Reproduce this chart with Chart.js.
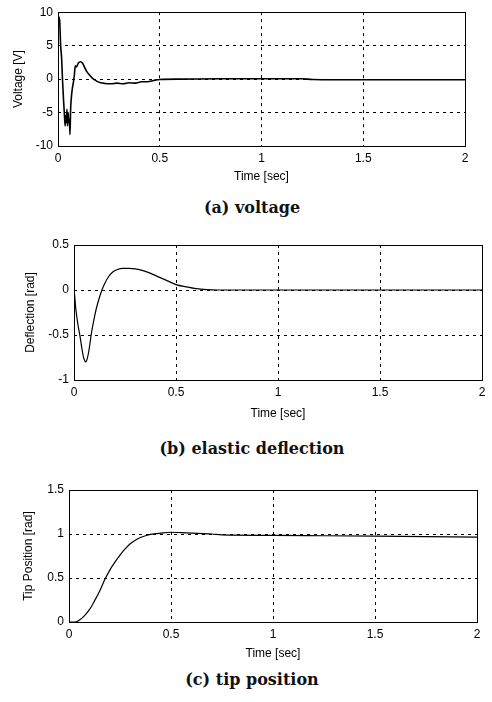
<!DOCTYPE html>
<html>
<head>
<meta charset="utf-8">
<script src="https://cdn.jsdelivr.net/npm/chart.js@4.4.1/dist/chart.umd.min.js"></script>
<style>
    html, body { margin: 0; padding: 0; background: #fff; }
    #page { position: relative; width: 492px; height: 702px; }
    .box { position: absolute; left: 0; width: 492px; }
    .caption {
        position: absolute; left: 0; width: 504px; text-align: center;
        font-family: "DejaVu Serif", serif; font-size: 16px; font-weight: bold; color: #111;
    }
</style>
</head>
<body>
<div id="page">
    <div class="box" style="top:0; height:184px;"><canvas id="chartVoltage"></canvas></div>
    <div class="caption" style="top:198px;">(a) voltage</div>
    <div class="box" style="top:230px; height:191px;"><canvas id="chartDeflection"></canvas></div>
    <div class="caption" style="top:439px;">(b) elastic deflection</div>
    <div class="box" style="top:475px; height:186px;"><canvas id="chartTip"></canvas></div>
    <div class="caption" style="top:670px;">(c) tip position</div>
</div>
<script>
var timeTicks = [0, 0.5, 1, 1.5, 2];

// (a) voltage
var voltageTime = [0, 0.003, 0.008, 0.013, 0.018, 0.022, 0.027, 0.031, 0.035, 0.038, 0.041, 0.044, 0.047,
    0.05, 0.053, 0.056, 0.059, 0.062, 0.065, 0.07, 0.075, 0.08, 0.085, 0.09, 0.1, 0.11, 0.12, 0.13, 0.14,
    0.155, 0.17, 0.19, 0.21, 0.23, 0.26, 0.29, 0.32, 0.35, 0.38, 0.41, 0.44, 0.47, 0.5, 0.6, 0.8, 1.0,
    1.2, 1.25, 1.5, 1.75, 2.0];
var voltageValue = [8.5, 9.3, 8.8, 5, 3, 0, -3, -5, -7, -5.5, -6.5, -4.5, -7,
    -5, -6.5, -6, -8.3, -4.5, -3, -1.5, -0.6, 0.5, 2, 1.8, 2.4, 2.6, 2.4, 1.8, 1.2,
    0.6, 0.1, -0.3, -0.55, -0.65, -0.7, -0.6, -0.7, -0.55, -0.6, -0.4, -0.4, -0.2, -0.05, 0, 0.05, 0.05,
    0.05, -0.05, -0.1, -0.1, -0.1];

// (b) elastic deflection
var deflectionTime = [0, 0.004, 0.008, 0.015, 0.022, 0.03, 0.038, 0.046, 0.053, 0.058, 0.064, 0.071,
    0.078, 0.084, 0.095, 0.11, 0.125, 0.137, 0.15, 0.17, 0.19, 0.21, 0.24, 0.27, 0.3, 0.33, 0.37, 0.42,
    0.47, 0.5, 0.55, 0.6, 0.65, 0.7, 0.8, 1, 1.5, 2];
var deflectionValue = [0, -0.08, -0.19, -0.32, -0.42, -0.52, -0.64, -0.74, -0.79, -0.8, -0.77, -0.7,
    -0.6, -0.5, -0.36, -0.2, -0.08, 0, 0.07, 0.15, 0.2, 0.225, 0.24, 0.24, 0.235, 0.22, 0.19, 0.14,
    0.09, 0.06, 0.035, 0.015, 0.005, 0, 0, 0, 0, 0];

// (c) tip position
var tipTime = [0, 0.03, 0.05, 0.075, 0.1, 0.125, 0.15, 0.175, 0.2, 0.225, 0.25, 0.275, 0.3, 0.325,
    0.35, 0.375, 0.4, 0.45, 0.5, 0.55, 0.6, 0.7, 0.75, 1, 1.25, 1.5, 1.75, 2];
var tipValue = [0, 0, 0.02, 0.07, 0.14, 0.24, 0.35, 0.48, 0.59, 0.68, 0.76, 0.83, 0.89, 0.93,
    0.96, 0.98, 0.995, 1.01, 1.02, 1.015, 1.01, 1.0, 0.99, 0.985, 0.98, 0.975, 0.97, 0.965];

var voltageTicks = [-10, -5, 0, 5, 10];
var deflectionTicks = [-1, -0.5, 0, 0.5];
var tipTicks = [0, 0.5, 1, 1.5];

var frameBox = {
    id: 'frameBox',
    afterDraw: function (chart) {
        var a = chart.chartArea, ctx = chart.ctx;
        ctx.save();
        ctx.strokeStyle = '#000';
        ctx.lineWidth = 1;
        ctx.strokeRect(Math.round(a.left) + 0.5, Math.round(a.top) + 0.5,
            Math.round(a.right - a.left), Math.round(a.bottom - a.top));
        ctx.restore();
    }
};

function toPoints(xs, ys) {
    var pts = [];
    for (var i = 0; i < xs.length; i++) {
        pts.push({ x: xs[i], y: ys[i] });
    }
    return pts;
}

function plainLabel(value) {
    return String(value);
}

function makeChart(id, xs, ys, cfg) {
    var el = document.getElementById(id);
    var fontTick = { family: '"Liberation Sans", Arial, sans-serif', size: 12 };
    return new Chart(el, {
        type: 'line',
        data: {
            datasets: [{
                data: toPoints(xs, ys),
                borderColor: '#000',
                borderWidth: cfg.lineWidth,
                pointRadius: 0,
                cubicInterpolationMode: 'monotone',
                fill: false
            }]
        },
        options: {
            responsive: true,
            maintainAspectRatio: false,
            animation: false,
            layout: { padding: { top: cfg.top, right: cfg.right, left: 0, bottom: 0 } },
            plugins: { legend: { display: false }, tooltip: { enabled: false } },
            scales: {
                x: {
                    type: 'linear',
                    min: 0, max: 2,
                    afterBuildTicks: function (s) { s.ticks = timeTicks.map(function (v) { return { value: v }; }); },
                    afterFit: function (s) { s.height = cfg.xHeight; },
                    grid: { color: '#000', lineWidth: 1, drawTicks: false },
                    border: { display: false, dash: [3, 4] },
                    ticks: { color: '#000', font: fontTick, padding: 5, maxRotation: 0, callback: plainLabel },
                    title: { display: true, text: 'Time [sec]', color: '#000', font: fontTick, padding: { top: 2, bottom: 0 } }
                },
                y: {
                    type: 'linear',
                    min: cfg.yTicks[0], max: cfg.yTicks[cfg.yTicks.length - 1],
                    afterBuildTicks: function (s) { s.ticks = cfg.yTicks.map(function (v) { return { value: v }; }); },
                    afterFit: function (s) { s.width = cfg.yWidth; },
                    grid: { color: '#000', lineWidth: 1, drawTicks: false },
                    border: { display: false, dash: [3, 4] },
                    ticks: { color: '#000', font: fontTick, padding: 5, callback: plainLabel },
                    title: { display: true, text: cfg.yTitle, color: '#000', font: fontTick, padding: { top: cfg.yTitlePad, bottom: 0 } }
                }
            }
        },
        plugins: [frameBox]
    });
}

makeChart('chartVoltage', voltageTime, voltageValue, {
    yTicks: voltageTicks, yTitle: 'Voltage [V]', top: 9, right: 27, yWidth: 58, xHeight: 38, yTitlePad: 11, lineWidth: 1.6
});
makeChart('chartDeflection', deflectionTime, deflectionValue, {
    yTicks: deflectionTicks, yTitle: 'Deflection [rad]', top: 15, right: 10, yWidth: 74, xHeight: 41, yTitlePad: 23, lineWidth: 1.2
});
makeChart('chartTip', tipTime, tipValue, {
    yTicks: tipTicks, yTitle: 'Tip Position [rad]', top: 15, right: 15, yWidth: 69, xHeight: 39, yTitlePad: 21, lineWidth: 1.2
});
</script>
</body>
</html>
